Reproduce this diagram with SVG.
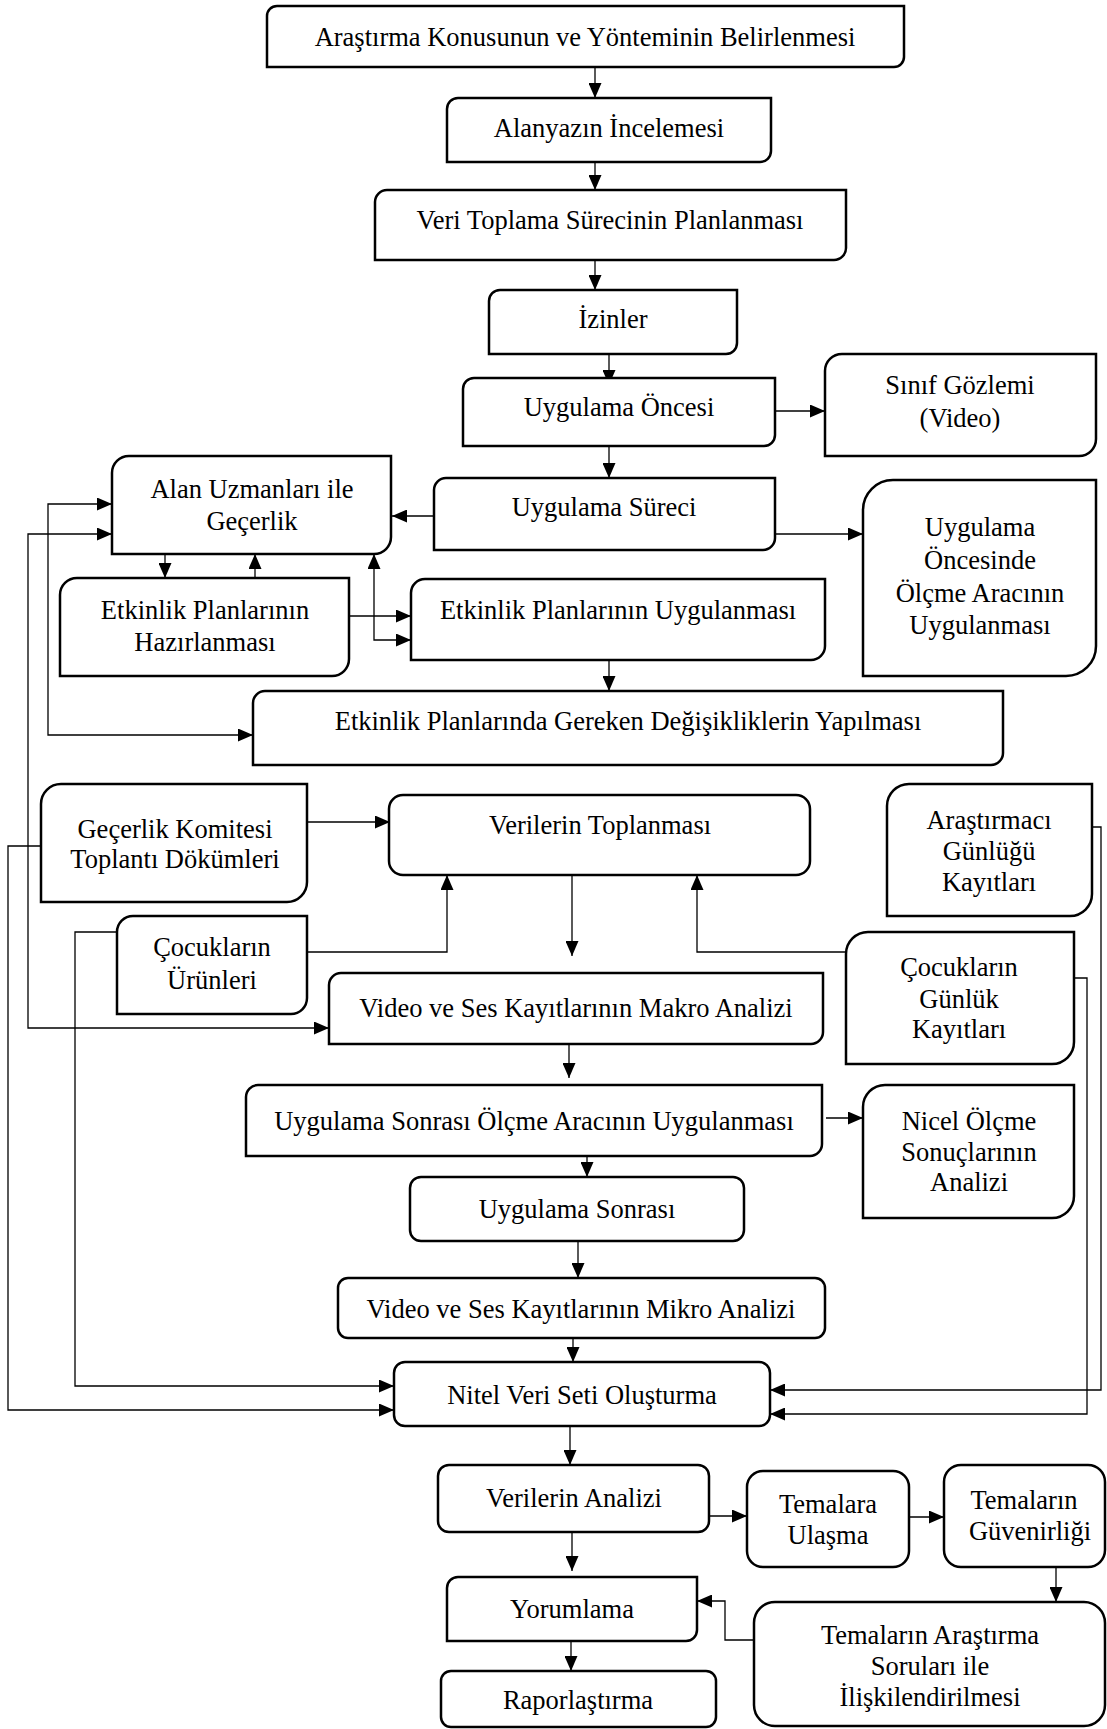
<svg xmlns="http://www.w3.org/2000/svg" width="1107" height="1729" viewBox="0 0 1107 1729">
<defs>
<marker id="a" viewBox="0 0 15 13" refX="15" refY="6.5" markerWidth="15" markerHeight="13" markerUnits="userSpaceOnUse" orient="auto-start-reverse">
<path d="M0,0 L15,6.5 L0,13 Z" fill="#000"/>
</marker>
<style>
.n{fill:#fff;stroke:#000;stroke-width:2.5}
.t{font-family:"Liberation Serif","Times New Roman",serif;font-size:26.5px;text-anchor:middle;fill:#000}
.c{fill:none;stroke:#000;stroke-width:1.3;marker-end:url(#a)}
.b{marker-start:url(#a)}
</style>
</defs>
<rect width="1107" height="1729" fill="#fff"/>
<g id="connectors">
<path class="c" d="M595,67 V98"/>
<path class="c" d="M595,162 V190"/>
<path class="c" d="M595,260 V290"/>
<path class="c" d="M609,354 V385"/>
<path class="c" d="M775,411 H825"/>
<path class="c" d="M609,446 V478"/>
<path class="c" d="M434,516 H392"/>
<path class="c" d="M775,534 H863"/>
<path class="c" d="M165,554 V578"/>
<path class="c" d="M255,578 V554"/>
<path class="c b" d="M374,554 V640 H411"/>
<path class="c" d="M349,616 H411"/>
<path class="c" d="M609,660 V691"/>
<path class="c b" d="M112,504 H48 V735 H253"/>
<path class="c b" d="M112,534 H28 V1028 H329"/>
<path class="c" d="M41,846 H8 V1410 H394"/>
<path class="c" d="M117,932 H75 V1386 H394"/>
<path class="c" d="M307,822 H390"/>
<path class="c" d="M307,952 H447 V875"/>
<path class="c" d="M572,875 V956"/>
<path class="c" d="M847,952 H697 V875"/>
<path class="c" d="M569,1044 V1078"/>
<path class="c" d="M826,1118 H863"/>
<path class="c" d="M587,1150 V1177"/>
<path class="c" d="M578,1241 V1278"/>
<path class="c" d="M573,1338 V1362"/>
<path class="c" d="M1092,827 H1101 V1390 H770"/>
<path class="c" d="M1074,978 H1087 V1414 H770"/>
<path class="c" d="M570,1426 V1465"/>
<path class="c" d="M572,1532 V1571"/>
<path class="c" d="M571,1641 V1671"/>
<path class="c" d="M709,1516 H747"/>
<path class="c" d="M909,1517 H944"/>
<path class="c" d="M1056,1567 V1602"/>
<path class="c" d="M754,1640 H725 V1601 H697"/>
</g>
<g id="n1"><path class="n" d="M277,6 H904 V57 A10,10 0 0 1 894,67 H267 V16 A10,10 0 0 1 277,6 Z"/><text class="t" x="585" y="46">Araştırma Konusunun ve Yönteminin Belirlenmesi</text></g>
<g id="n2"><path class="n" d="M458,98 H771 V151 A11,11 0 0 1 760,162 H447 V109 A11,11 0 0 1 458,98 Z"/><text class="t" x="609" y="137">Alanyazın İncelemesi</text></g>
<g id="n3"><path class="n" d="M387,190 H846 V248 A12,12 0 0 1 834,260 H375 V202 A12,12 0 0 1 387,190 Z"/><text class="t" x="610" y="229">Veri Toplama Sürecinin Planlanması</text></g>
<g id="n4"><path class="n" d="M500,290 H737 V343 A11,11 0 0 1 726,354 H489 V301 A11,11 0 0 1 500,290 Z"/><text class="t" x="613" y="328">İzinler</text></g>
<g id="n5"><path class="n" d="M474,378 H775 V435 A11,11 0 0 1 764,446 H463 V389 A11,11 0 0 1 474,378 Z"/><text class="t" x="619" y="416">Uygulama Öncesi</text></g>
<g id="n6"><path class="n" d="M842,354 H1096 V439 A17,17 0 0 1 1079,456 H825 V371 A17,17 0 0 1 842,354 Z"/><text class="t" x="960" y="394">Sınıf Gözlemi</text><text class="t" x="960" y="427">(Video)</text></g>
<g id="n7"><path class="n" d="M446,478 H775 V538 A12,12 0 0 1 763,550 H434 V490 A12,12 0 0 1 446,478 Z"/><text class="t" x="604" y="516">Uygulama Süreci</text></g>
<g id="n8"><path class="n" d="M893,480 H1096 V646 A30,30 0 0 1 1066,676 H863 V510 A30,30 0 0 1 893,480 Z"/><text class="t" x="980" y="536">Uygulama</text><text class="t" x="980" y="569">Öncesinde</text><text class="t" x="980" y="602">Ölçme Aracının</text><text class="t" x="980" y="634">Uygulanması</text></g>
<g id="n9"><path class="n" d="M129,456 H391 V537 A17,17 0 0 1 374,554 H112 V473 A17,17 0 0 1 129,456 Z"/><text class="t" x="252" y="498">Alan Uzmanları ile</text><text class="t" x="252" y="530">Geçerlik</text></g>
<g id="n10"><path class="n" d="M77,578 H349 V659 A17,17 0 0 1 332,676 H60 V595 A17,17 0 0 1 77,578 Z"/><text class="t" x="205" y="619">Etkinlik Planlarının</text><text class="t" x="205" y="651">Hazırlanması</text></g>
<g id="n11"><path class="n" d="M425,579 H825 V646 A14,14 0 0 1 811,660 H411 V593 A14,14 0 0 1 425,579 Z"/><text class="t" x="618" y="619">Etkinlik Planlarının Uygulanması</text></g>
<g id="n12"><path class="n" d="M265,691 H1003 V753 A12,12 0 0 1 991,765 H253 V703 A12,12 0 0 1 265,691 Z"/><text class="t" x="628" y="730">Etkinlik Planlarında Gereken Değişikliklerin Yapılması</text></g>
<g id="n13"><path class="n" d="M61,784 H307 V882 A20,20 0 0 1 287,902 H41 V804 A20,20 0 0 1 61,784 Z"/><text class="t" x="175" y="838">Geçerlik Komitesi</text><text class="t" x="175" y="868">Toplantı Dökümleri</text></g>
<g id="n14"><rect class="n" x="389" y="795" width="421" height="80" rx="14"/><text class="t" x="600" y="834">Verilerin Toplanması</text></g>
<g id="n15"><path class="n" d="M909,784 H1092 V894 A22,22 0 0 1 1070,916 H887 V806 A22,22 0 0 1 909,784 Z"/><text class="t" x="989" y="829">Araştırmacı</text><text class="t" x="989" y="860">Günlüğü</text><text class="t" x="989" y="891">Kayıtları</text></g>
<g id="n16"><path class="n" d="M133,916 H307 V998 A16,16 0 0 1 291,1014 H117 V932 A16,16 0 0 1 133,916 Z"/><text class="t" x="212" y="956">Çocukların</text><text class="t" x="212" y="989">Ürünleri</text></g>
<g id="n17"><path class="n" d="M868,932 H1074 V1042 A22,22 0 0 1 1052,1064 H846 V954 A22,22 0 0 1 868,932 Z"/><text class="t" x="959" y="976">Çocukların</text><text class="t" x="959" y="1008">Günlük</text><text class="t" x="959" y="1038">Kayıtları</text></g>
<g id="n18"><path class="n" d="M341,973 H823 V1032 A12,12 0 0 1 811,1044 H329 V985 A12,12 0 0 1 341,973 Z"/><text class="t" x="576" y="1017">Video ve Ses Kayıtlarının Makro Analizi</text></g>
<g id="n19"><path class="n" d="M258,1085 H822 V1144 A12,12 0 0 1 810,1156 H246 V1097 A12,12 0 0 1 258,1085 Z"/><text class="t" x="534" y="1130">Uygulama Sonrası Ölçme Aracının Uygulanması</text></g>
<g id="n20"><path class="n" d="M885,1085 H1074 V1196 A22,22 0 0 1 1052,1218 H863 V1107 A22,22 0 0 1 885,1085 Z"/><text class="t" x="969" y="1130">Nicel Ölçme</text><text class="t" x="969" y="1161">Sonuçlarının</text><text class="t" x="969" y="1191">Analizi</text></g>
<g id="n21"><rect class="n" x="410" y="1177" width="334" height="64" rx="11"/><text class="t" x="577" y="1218">Uygulama Sonrası</text></g>
<g id="n22"><rect class="n" x="338" y="1278" width="487" height="60" rx="10"/><text class="t" x="581" y="1318">Video ve Ses Kayıtlarının Mikro Analizi</text></g>
<g id="n23"><rect class="n" x="394" y="1362" width="376" height="64" rx="11"/><text class="t" x="582" y="1404">Nitel Veri Seti Oluşturma</text></g>
<g id="n24"><rect class="n" x="438" y="1465" width="271" height="67" rx="11"/><text class="t" x="574" y="1507">Verilerin Analizi</text></g>
<g id="n25"><rect class="n" x="747" y="1471" width="162" height="96" rx="16"/><text class="t" x="828" y="1513">Temalara</text><text class="t" x="828" y="1544">Ulaşma</text></g>
<g id="n26"><rect class="n" x="944" y="1465" width="161" height="102" rx="17"/><text class="t" x="1024" y="1509">Temaların</text><text class="t" x="1030" y="1540">Güvenirliği</text></g>
<g id="n27"><path class="n" d="M458,1577 H697 V1630 A11,11 0 0 1 686,1641 H447 V1588 A11,11 0 0 1 458,1577 Z"/><text class="t" x="572" y="1618">Yorumlama</text></g>
<g id="n28"><rect class="n" x="441" y="1671" width="275" height="56" rx="10"/><text class="t" x="578" y="1709">Raporlaştırma</text></g>
<g id="n29"><rect class="n" x="754" y="1602" width="351" height="124" rx="21"/><text class="t" x="930" y="1644">Temaların Araştırma</text><text class="t" x="930" y="1675">Soruları ile</text><text class="t" x="930" y="1706">İlişkilendirilmesi</text></g>
</svg>
